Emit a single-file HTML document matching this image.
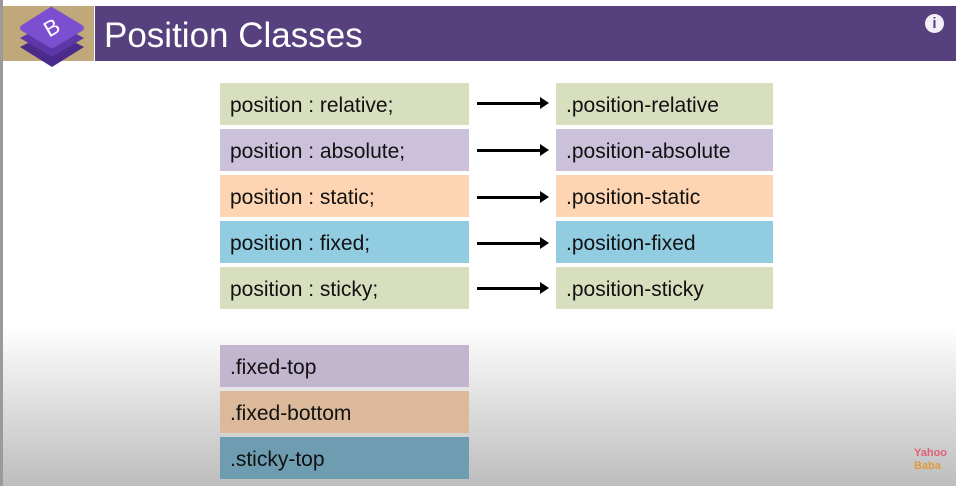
<!DOCTYPE html>
<html><head><style>
body{margin:0;width:956px;height:486px;overflow:hidden;font-family:"Liberation Sans",sans-serif;position:relative;background:linear-gradient(#fff 0,#fff 325px,#bdbdbd 486px);}
.a{position:absolute}
.box{position:absolute;height:42px;font-size:21px;line-height:46px;padding-left:10px;box-sizing:border-box;color:#111}
.l{left:220px;width:249px}
.r{left:556px;width:217px}
.g{background:#d7dfbe}.p{background:#ccc1da}.o{background:#fdd5b2}.b{background:#92cce1}
.arr{position:absolute;left:477px;width:64px;height:3px;background:#000}
.arr:after{content:"";position:absolute;right:-8px;top:-5px;border-left:9px solid #000;border-top:6.5px solid transparent;border-bottom:6.5px solid transparent}
</style></head><body>
<div class="a" style="left:0;top:0;width:3px;height:486px;background:#9a9a9a"></div>
<div class="a" style="left:3px;top:6px;width:91px;height:55px;background:#c0a87a"></div>
<div class="a" style="left:95px;top:6px;width:861px;height:55px;background:#56417e"></div>
<svg class="a" style="left:14px;top:3px" width="76" height="66" viewBox="0 0 76 66">
<path d="M38 28 L70 44 L38 64 L6 44 Z" fill="#4a2a8a"/>
<path d="M38 18 L70 35 L38 54 L6 35 Z" fill="#5d37a8"/>
<path d="M38 4 L68 22 Q72 25 68 28 L41 44 Q38 46 35 44 L8 28 Q4 25 8 22 L35 5 Q38 3 38 4Z" fill="#7b4fd0"/>
<text x="38" y="32" font-size="22" fill="#fff" text-anchor="middle" font-family="Liberation Sans" transform="rotate(-30 38 25)">B</text>
</svg>
<div class="a" style="left:104px;top:15px;font-size:35px;color:#fff;line-height:42px">Position Classes</div>
<div class="a" style="left:925px;top:14px;width:19px;height:19px;border-radius:50%;background:#f2f0f6;color:#56417e;font-weight:bold;font-size:15px;line-height:19px;text-align:center">i</div>

<div class="box l g" style="top:83px">position : relative;</div>
<div class="box l p" style="top:129px">position : absolute;</div>
<div class="box l o" style="top:175px">position : static;</div>
<div class="box l b" style="top:221px">position : fixed;</div>
<div class="box l g" style="top:267px">position : sticky;</div>
<div class="box r g" style="top:83px">.position-relative</div>
<div class="box r p" style="top:129px">.position-absolute</div>
<div class="box r o" style="top:175px">.position-static</div>
<div class="box r b" style="top:221px">.position-fixed</div>
<div class="box r g" style="top:267px">.position-sticky</div>
<div class="arr" style="top:102px"></div>
<div class="arr" style="top:149px"></div>
<div class="arr" style="top:196px"></div>
<div class="arr" style="top:242px"></div>
<div class="arr" style="top:287px"></div>

<div class="box l" style="top:345px;background:#c2b6cf">.fixed-top</div>
<div class="box l" style="top:391px;background:#dcb99b">.fixed-bottom</div>
<div class="box l" style="top:437px;background:#6e9cb0">.sticky-top</div>
<div class="a" style="left:914px;top:447px;font-size:11px;font-weight:bold;color:#e0607a;line-height:13px">Yahoo<br><span style="color:#e09a40">Baba</span></div>
</body></html>
